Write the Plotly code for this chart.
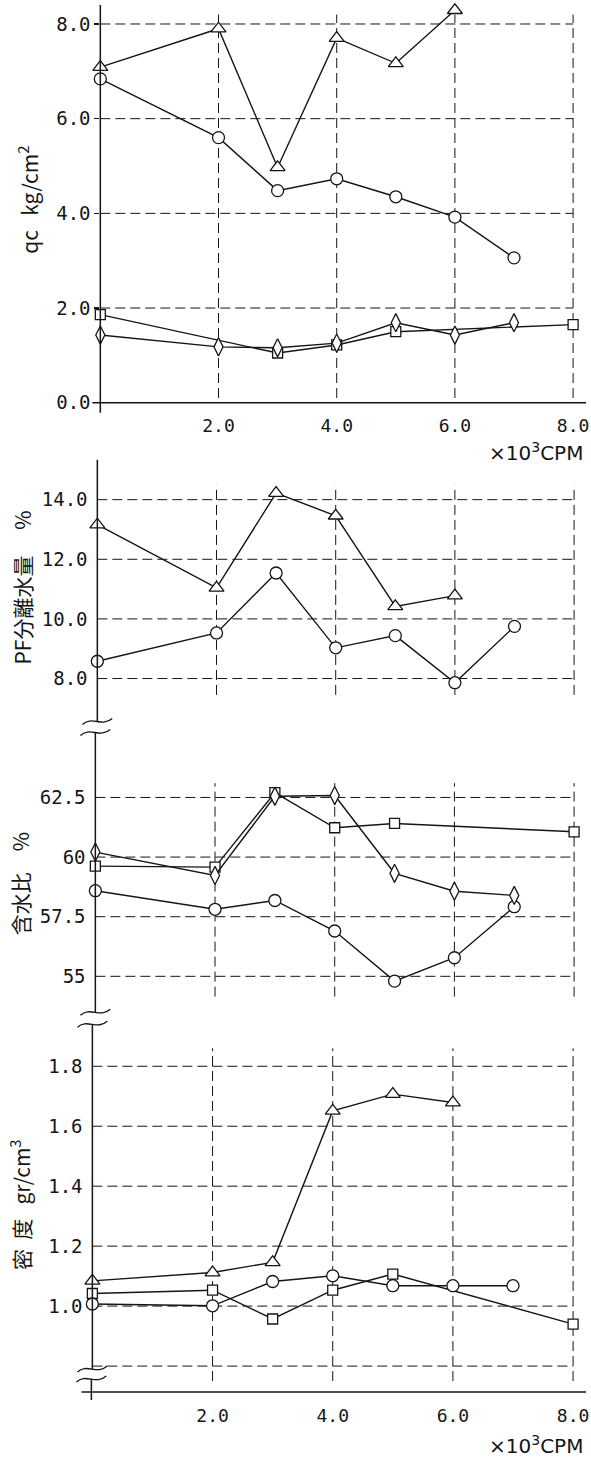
import plotly.graph_objects as go

W, H = 591, 1458

# ---------------- data (x in 10^3 CPM) ----------------
x_ticks = [2, 4, 6, 8]
x_ticktext = ["2.0", "4.0", "6.0", "8.0"]

# qc kg/cm2
qc_ticks = [0, 2, 4, 6, 8]
qc_ticktext = ["0.0", "2.0", "4.0", "6.0", "8.0"]
qc_tri_x = [0, 2, 3, 4, 5, 6]
qc_tri_y = [7.09, 7.90, 4.97, 7.70, 7.17, 8.29]
qc_cir_x = [0, 2, 3, 4, 5, 6, 7]
qc_cir_y = [6.84, 5.60, 4.48, 4.73, 4.35, 3.92, 3.06]
qc_sq_x = [0, 3, 4, 5, 8]
qc_sq_y = [1.86, 1.05, 1.22, 1.50, 1.65]
qc_dia_x = [0, 2, 3, 4, 5, 6, 7]
qc_dia_y = [1.43, 1.18, 1.16, 1.26, 1.69, 1.43, 1.69]

# PF separated water %
pf_ticks = [8, 10, 12, 14]
pf_ticktext = ["8.0", "10.0", "12.0", "14.0"]
pf_tri_x = [0, 2, 3, 4, 5, 6]
pf_tri_y = [13.16, 11.04, 14.22, 13.46, 10.42, 10.78]
pf_cir_x = [0, 2, 3, 4, 5, 6, 7]
pf_cir_y = [8.58, 9.53, 11.54, 9.03, 9.44, 7.86, 9.75]

# water content %
wc_ticks = [55, 57.5, 60, 62.5]
wc_ticktext = ["55", "57.5", "60", "62.5"]
wc_dia_x = [0, 2, 3, 4, 5, 6, 7]
wc_dia_y = [60.21, 59.23, 62.55, 62.58, 59.32, 58.57, 58.39]
wc_sq_x = [0, 2, 3, 4, 5, 8]
wc_sq_y = [59.62, 59.58, 62.70, 61.23, 61.41, 61.06]
wc_cir_x = [0, 2, 3, 4, 5, 6, 7]
wc_cir_y = [58.59, 57.81, 58.18, 56.90, 54.80, 55.78, 57.92]

# density gr/cm3
de_ticks = [1.0, 1.2, 1.4, 1.6, 1.8]
de_ticktext = ["1.0", "1.2", "1.4", "1.6", "1.8"]
de_grid = [0.8, 1.0, 1.2, 1.4, 1.6, 1.8]
de_tri_x = [0, 2, 3, 4, 5, 6]
de_tri_y = [1.084, 1.112, 1.146, 1.651, 1.707, 1.679]
de_cir_x = [0, 2, 3, 4, 5, 6, 7]
de_cir_y = [1.007, 1.001, 1.082, 1.101, 1.068, 1.068, 1.068]
de_sq_x = [0, 2, 3, 4, 5, 8]
de_sq_y = [1.042, 1.053, 0.957, 1.053, 1.107, 0.940]

# ---------------- layout geometry (pixels) ----------------
INK = "#151515"
RIGHT_PX = 589
NB = "\u00a0"


def fx(px):
    return px / W


def fy(py):
    return 1 - py / H


panels = [
    dict(x0=101, x8=577, ref=((0, 403), (8, 24)), dom=(5, 413),
         ticks=qc_ticks, ticktext=qc_ticktext, hgrid=[2, 4, 6, 8], vgrid=(0.1, 8.2), tickcolor=INK),
    dict(x0=98, x8=578, ref=((8, 679), (14, 500)), dom=(460, 722),
         ticks=pf_ticks, ticktext=pf_ticktext, hgrid=pf_ticks, vgrid=(7.45, 14.5), tickcolor="rgba(0,0,0,0)"),
    dict(x0=96, x8=578, ref=((55, 977), (62.5, 798)), dom=(733, 1013),
         ticks=wc_ticks, ticktext=wc_ticktext, hgrid=wc_ticks, vgrid=(54.15, 63.1), tickcolor="rgba(0,0,0,0)"),
    dict(x0=93, x8=577, ref=((1.0, 1307), (1.8, 1067)), dom=(1025, 1393),
         ticks=de_ticks, ticktext=de_ticktext, hgrid=de_grid, vgrid=(0.75, 1.86), tickcolor="rgba(0,0,0,0)"),
]

fig = go.Figure()
layout = dict(width=W, height=H, margin=dict(l=0, r=0, t=0, b=0), autosize=False,
              paper_bgcolor="white", plot_bgcolor="white", showlegend=False)
shapes = []
annotations = []

tickfont = dict(family="DejaVu Sans Mono", size=19, color=INK)
xtickfont = dict(family="DejaVu Sans Mono", size=18, color=INK)

for i, p in enumerate(panels, start=1):
    xs = "" if i == 1 else str(i)
    ppu_x = (p["x8"] - p["x0"]) / 8.0
    xr = [0, (RIGHT_PX - p["x0"]) / ppu_x]
    (va, pa), (vb, pb) = p["ref"]
    ppu_y = (pa - pb) / (vb - va)
    top, bot = p["dom"]
    yr = [va - (bot - pa) / ppu_y, va + (pa - top) / ppu_y]

    xa = dict(domain=[fx(p["x0"]), fx(RIGHT_PX)], range=xr, showgrid=False, zeroline=False,
              showline=False, ticks="", showticklabels=False, fixedrange=True)
    if i in (1, 4):
        axis_py = 403 if i == 1 else 1393
        xa.update(anchor="free", position=fy(axis_py), showticklabels=True,
                  tickvals=x_ticks, ticktext=x_ticktext, tickfont=xtickfont,
                  ticks="outside", ticklen=7, tickcolor="rgba(0,0,0,0)",
                  ticklabeloverflow="allow")
    else:
        xa.update(anchor="y" + xs)
    ya = dict(domain=[fy(bot), fy(top)], range=yr, showgrid=False, zeroline=False,
              showline=False, anchor="x" + xs, tickvals=p["ticks"], ticktext=p["ticktext"],
              tickfont=tickfont, ticks="outside", ticklen=5, tickcolor=p["tickcolor"], tickwidth=1.2,
              fixedrange=True)
    layout["xaxis" + xs] = xa
    layout["yaxis" + xs] = ya

    xref, yref = "x" + xs, "y" + xs
    # dashed grid
    for v in p["hgrid"]:
        shapes.append(dict(type="line", xref=xref, yref=yref, x0=0, x1=8, y0=v, y1=v,
                           line=dict(color=INK, width=1, dash="10px,5px"), layer="below"))
    for v in x_ticks:
        shapes.append(dict(type="line", xref=xref, yref=yref, x0=v, x1=v,
                           y0=p["vgrid"][0], y1=p["vgrid"][1],
                           line=dict(color=INK, width=1, dash="10px,5px"), layer="below"))

# axis lines (pixels)
axis_segments = [
    (101, 5, 101, 413), (93, 403, 590, 403),
    (98, 460, 98, 722),
    (96, 733, 96, 1013),
    (93, 1025, 93, 1370), (92, 1380, 92, 1401), (82, 1393, 590, 1393),
]
for x0, y0, x1, y1 in axis_segments:
    shapes.append(dict(type="line", xref="paper", yref="paper", x0=fx(x0), y0=fy(y0),
                       x1=fx(x1), y1=fy(y1), line=dict(color=INK, width=1.5)))

# axis break marks
for cx, cy in [(98, 722), (96, 733), (96, 1013), (93, 1025), (93, 1370), (92, 1380)]:
    path = (f"M {fx(cx-15)},{fy(cy+3)} C {fx(cx-6)},{fy(cy-6)} {fx(cx+5)},{fy(cy+6)} "
            f"{fx(cx+15)},{fy(cy-3)}")
    shapes.append(dict(type="path", xref="paper", yref="paper", path=path,
                       line=dict(color=INK, width=1.3)))

layout["shapes"] = shapes


def add_series(xs, ys, sym, size, axis_i):
    s = "" if axis_i == 1 else str(axis_i)
    fig.add_trace(go.Scatter(
        x=xs, y=ys, mode="lines+markers", xaxis="x" + s, yaxis="y" + s,
        line=dict(color=INK, width=1.4),
        marker=dict(symbol=sym, size=size, color="white", line=dict(color=INK, width=1.3)),
        cliponaxis=False, hoverinfo="skip"))


add_series(qc_tri_x, qc_tri_y, "triangle-up", 13, 1)
add_series(qc_cir_x, qc_cir_y, "circle", 12, 1)
add_series(qc_sq_x, qc_sq_y, "square", 10, 1)
add_series(qc_dia_x, qc_dia_y, "diamond-tall", 13, 1)

add_series(pf_tri_x, pf_tri_y, "triangle-up", 13, 2)
add_series(pf_cir_x, pf_cir_y, "circle", 12, 2)

add_series(wc_cir_x, wc_cir_y, "circle", 12, 3)
add_series(wc_sq_x, wc_sq_y, "square", 10, 3)
add_series(wc_dia_x, wc_dia_y, "diamond-tall", 13, 3)

add_series(de_tri_x, de_tri_y, "triangle-up", 13, 4)
add_series(de_sq_x, de_sq_y, "square", 10, 4)
add_series(de_cir_x, de_cir_y, "circle", 12, 4)

# axis titles (rotated)
title_font = dict(family="Noto Sans CJK JP, DejaVu Sans", size=21, color=INK)
for text, cx, cy in [
    ("qc" + NB * 3 + "kg/cm<sup>2</sup>", 28, 200),
    ("PF分離水量　" + NB + "%", 22, 588),
    ("含水比　%", 21, 884),
    ("密" + NB * 2 + "度" + NB * 3 + "gr/cm<sup>3</sup>", 20, 1205),
]:
    annotations.append(dict(text=text, x=fx(cx), y=fy(cy), xref="paper", yref="paper",
                            textangle=-90, showarrow=False, font=title_font,
                            xanchor="center", yanchor="middle"))

unit_font = dict(family="DejaVu Sans", size=20, color=INK)
for cy in (452, 1446):
    annotations.append(dict(text="×10<sup>3</sup>CPM", x=fx(589), y=fy(cy), xref="paper", yref="paper",
                            showarrow=False, font=unit_font, xanchor="right", yanchor="middle"))
layout["annotations"] = annotations

fig.update_layout(**layout)
fig.write_html(
    "out.html",
    config={"displayModeBar": False, "staticPlot": True},
    post_script="document.body.style.margin='0';document.body.style.padding='0';"
                "document.documentElement.style.overflow='hidden';",
)
